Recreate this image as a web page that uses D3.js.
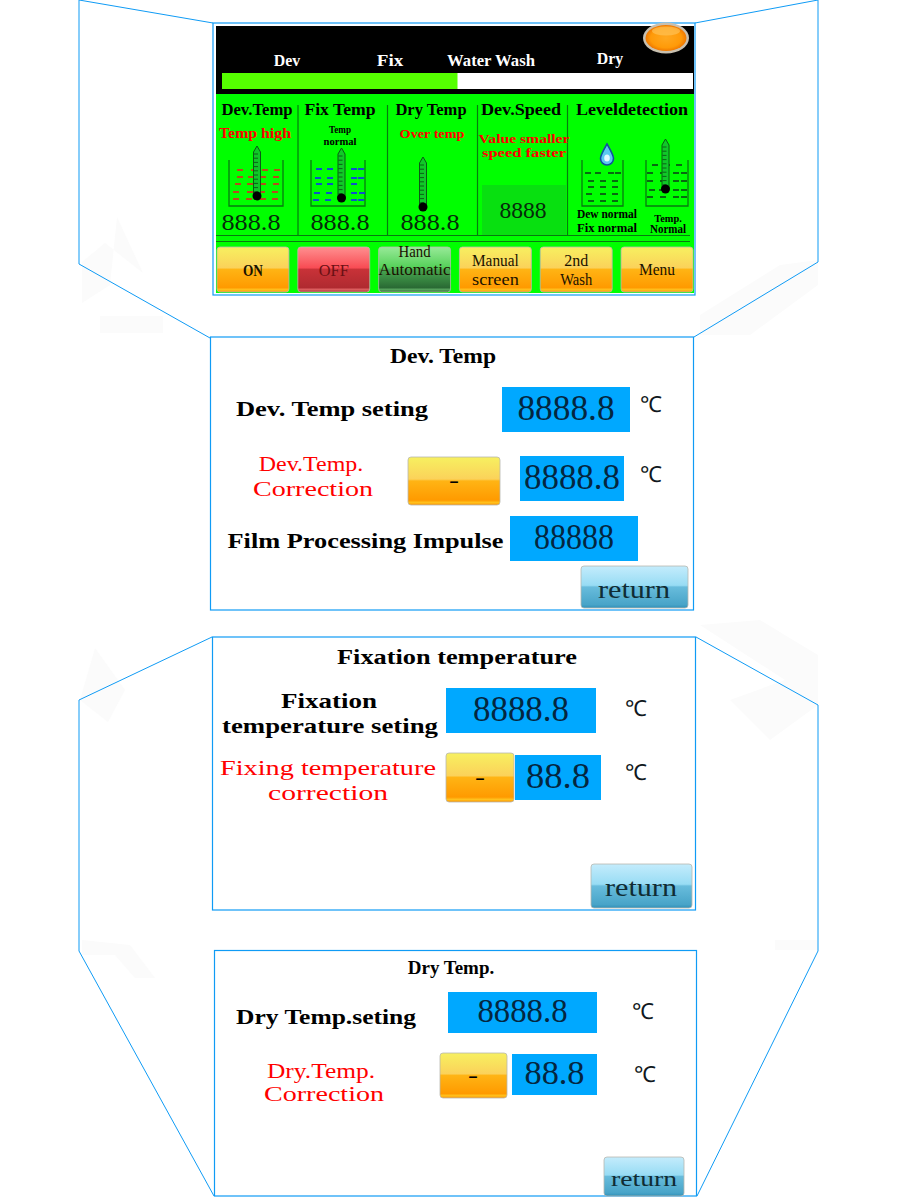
<!DOCTYPE html>
<html>
<head>
<meta charset="utf-8">
<title>Processor screens</title>
<script src="https://cdnjs.cloudflare.com/ajax/libs/d3/7.8.5/d3.min.js"></script>
<style>
html, body { margin: 0; padding: 0; background: #fff; }
svg { display: block; }
text { font-family: "Liberation Serif", serif; }
</style>
</head>
<body>
<svg></svg>
<script>
let width = 900, height = 1200

// values
const stageLabels = ['Dev', 'Fix', 'Water Wash', 'Dry']
const progressValue = 50
const columnTitles = ['Dev.Temp', 'Fix Temp', 'Dry Temp', 'Dev.Speed', 'Leveldetection']
const columnValues = ['888.8', '888.8', '888.8', '8888']
const buttonLabels = [['ON'], ['OFF'], ['Hand', 'Automatic'], ['Manual', 'screen'], ['2nd', 'Wash'], ['Menu']]
const buttonStyles = ['orange', 'red', 'green', 'orange', 'orange', 'orange']
const devTitle = 'Dev. Temp'
const devSetting = 'Dev. Temp seting'
const devCorrection = ['Dev.Temp.', 'Correction']
const devImpulse = 'Film Processing Impulse'
const devValues = ['8888.8', '8888.8', '88888']
const fixTitle = 'Fixation temperature'
const fixSetting = ['Fixation', 'temperature seting']
const fixCorrection = ['Fixing temperature', 'correction']
const fixValues = ['8888.8', '88.8']
const dryTitle = 'Dry Temp.'
const drySetting = 'Dry Temp.seting'
const dryCorrection = ['Dry.Temp.', 'Correction']
const dryValues = ['8888.8', '88.8']
const unitLabel = '℃'
const returnLabel = 'return'

let svg = d3.select("svg").attr("width", width).attr("height", height)
let defs = svg.append("defs")

const blue = "#0f9bf5", valueBlue = "#00a8ff", inkBlue = "#04263f", darkGreen = "#087a10"

const addGradient = (id, stops) => {
    let g = defs.append("linearGradient").attr("id", id)
        .attr("x1", 0).attr("y1", 0).attr("x2", 0).attr("y2", 1)
    stops.forEach(s => g.append("stop").attr("offset", s[0]).attr("stop-color", s[1]))
}
addGradient("orange", [[0, "#f7f060"], [0.46, "#fbd25a"], [0.5, "#ffb414"], [0.9, "#ff9a00"], [0.95, "#ffc21e"], [1, "#ff9400"]])
addGradient("red", [[0, "#ff9090"], [0.46, "#f84c54"], [0.5, "#c83238"], [0.9, "#b02a30"], [0.95, "#e06464"], [1, "#a02428"]])
addGradient("green", [[0, "#98ea98"], [0.46, "#54d058"], [0.5, "#48a850"], [0.9, "#2a6a34"], [0.95, "#5aa860"], [1, "#286030"]])
addGradient("sky", [[0, "#c4ecfc"], [0.46, "#98dcf4"], [0.5, "#68bcdc"], [0.92, "#48a4c8"], [1, "#3090b8"]])
let lamp = defs.append("radialGradient").attr("id", "lamp")
lamp.append("stop").attr("offset", 0).attr("stop-color", "#ffa820")
lamp.append("stop").attr("offset", 0.75).attr("stop-color", "#ff9a08")
lamp.append("stop").attr("offset", 1).attr("stop-color", "#f07800")

// generic text helper: glyphs are squeezed to a fixed advance like the panel's bitmap font
const put = (parent, str, x, y, opt = {}) => {
    let t = parent.append("text")
        .attr("x", x).attr("y", y + 3)
        .attr("text-anchor", opt.anchor || "middle")
        .attr("dominant-baseline", "middle")
        .attr("font-size", opt.size || 18)
        .attr("font-weight", opt.bold === false ? 400 : 700)
        .attr("fill", opt.color || "#000")
        .text(str)
    if (opt.adv) t.attr("textLength", str.length * opt.adv).attr("lengthAdjust", "spacingAndGlyphs")
    return t
}

const drawButton = (parent, x, y, w, h, style) => parent.append("rect")
    .attr("x", x).attr("y", y).attr("width", w).attr("height", h).attr("rx", 3)
    .attr("fill", `url(#${style})`).attr("stroke", "#b8b8b0").attr("stroke-width", 0.8)

const valueBox = (parent, x0, x1, y0, y1, str, size, adv) => {
    parent.append("rect").attr("x", x0).attr("y", y0).attr("width", x1 - x0).attr("height", y1 - y0).attr("fill", valueBlue)
    put(parent, str, (x0 + x1) / 2, (y0 + y1) / 2 - 1, {size: size, adv: adv, bold: false, color: inkBlue})
}

// faint watermark behind the panels
let wm = svg.append("g").attr("fill", "#fbfbfb")
const wmShapes = [
    [[117, 217], [143, 273], [105, 243], [82, 262], [82, 303], [110, 285]],
    [[100, 316], [163, 316], [163, 333], [100, 333]],
    [[700, 315], [780, 265], [818, 260], [818, 285], [750, 335], [700, 335]],
    [[700, 625], [760, 620], [818, 655], [818, 705], [770, 740], [730, 700], [785, 680]],
    [[95, 648], [125, 690], [108, 722], [80, 700]],
    [[82, 940], [130, 945], [155, 978], [135, 978], [115, 955], [82, 955]],
    [[775, 940], [818, 940], [818, 950], [775, 950]]
]
wm.selectAll("polygon").data(wmShapes).enter().append("polygon")
    .attr("points", d => d.map(p => p.join(",")).join(" "))

// connector outline between the screens
let link = d3.line()
const connectors = [
    [[213, 23], [79, 0], [79, 264], [210, 338]],
    [[695, 23], [818, 0], [818, 262], [694, 337]],
    [[212, 637], [79, 700], [79, 951], [214, 1196]],
    [[696, 637], [818, 705], [818, 951], [697, 1196]]
]
svg.append("g").selectAll("path").data(connectors).enter().append("path")
    .attr("d", link).attr("fill", "none").attr("stroke", blue).attr("stroke-width", 1)

// panel frames
const frames = [[213, 23, 482, 272], [210.5, 337, 483, 273], [212.5, 637, 483, 273], [214.5, 950.5, 482, 245.5]]
svg.append("g").selectAll("rect").data(frames).enter().append("rect")
    .attr("x", d => d[0]).attr("y", d => d[1]).attr("width", d => d[2]).attr("height", d => d[3])
    .attr("fill", "#fff").attr("stroke", blue).attr("stroke-width", 1.2)

// ---- main screen ----
let hmi = svg.append("g")
hmi.append("rect").attr("x", 216).attr("y", 26).attr("width", 478).attr("height", 68).attr("fill", "#000")
hmi.append("rect").attr("x", 216).attr("y", 94).attr("width", 478).attr("height", 199).attr("fill", "#00ff00")

const stageX = [287, 390, 491, 610], stageY = [59, 59, 59, 57]
stageLabels.forEach((s, i) => put(hmi, s, stageX[i], stageY[i], {size: 16, adv: 8.8, color: "#fff"}))

let progress = d3.scaleLinear().domain([0, 100]).range([222, 693])
hmi.append("rect").attr("x", progress(0)).attr("y", 73).attr("width", progress(100) - progress(0)).attr("height", 16).attr("fill", "#fff")
hmi.append("rect").attr("x", progress(0)).attr("y", 73).attr("width", progress(progressValue) - progress(0)).attr("height", 16).attr("fill", "#55ff00")

hmi.append("ellipse").attr("cx", 666).attr("cy", 38).attr("rx", 23).attr("ry", 15.5).attr("fill", "#c8c0b0")
hmi.append("ellipse").attr("cx", 666).attr("cy", 38).attr("rx", 20.5).attr("ry", 13).attr("fill", "url(#lamp)")
hmi.append("ellipse").attr("cx", 666).attr("cy", 31).attr("rx", 14).attr("ry", 4.5).attr("fill", "#ffc860").attr("opacity", 0.6)

// column rules
const dividers = [298, 387.5, 477.5, 567.5]
hmi.selectAll("line.div").data(dividers).enter().append("line").attr("class", "div")
    .attr("x1", d => d).attr("x2", d => d).attr("y1", 105).attr("y2", 235)
    .attr("stroke", darkGreen).attr("stroke-width", 1.2)
;[235.5, 241.5].forEach(y => hmi.append("line").attr("x1", 216).attr("x2", 690).attr("y1", y).attr("y2", y)
    .attr("stroke", darkGreen).attr("stroke-width", 1.2))

const titleX = [257, 340, 431, 521, 632]
columnTitles.forEach((s, i) => put(hmi, s, titleX[i], 108, {size: 16, adv: i == 4 ? 8 : 8.9}))

put(hmi, 'Temp high', 255, 132, {size: 14, adv: 8, color: "#ff0000"})
put(hmi, 'Temp', 340, 127, {size: 11, adv: 5.5})
put(hmi, 'normal', 340, 139, {size: 11, adv: 5.5})
put(hmi, 'Over temp', 432, 132, {size: 13, adv: 7.2, color: "#ff0000"})
put(hmi, 'Value smaller', 524, 137, {size: 13, adv: 7, color: "#ff0000"})
put(hmi, 'speed faster', 524, 151, {size: 13, adv: 7, color: "#ff0000"})

const drawBeaker = (x0, x1, color, rows) => {
    hmi.append("path").attr("d", `M${x0},160V206H${x1}V160`).attr("fill", "none").attr("stroke", darkGreen).attr("stroke-width", 1.3)
    rows.forEach(r => r[1].forEach(dx => hmi.append("line")
        .attr("x1", x0 + dx).attr("x2", x0 + dx + 6).attr("y1", r[0]).attr("y2", r[0])
        .attr("stroke", color).attr("stroke-width", 1.8)))
}
const drawThermo = (cx, top, bulb) => {
    hmi.append("path")
        .attr("d", `M${cx - 3.5},${bulb}V${top + 6}L${cx},${top}L${cx + 3.5},${top + 6}V${bulb}Z`)
        .attr("fill", "#10c828").attr("stroke", "#0a5a14").attr("stroke-width", 1)
    d3.range(top + 8, bulb - 3, 4.2).forEach(y => hmi.append("line").attr("x1", cx - 3).attr("x2", cx + 1).attr("y1", y).attr("y2", y)
        .attr("stroke", "#0a4a10").attr("stroke-width", 0.8))
    hmi.append("circle").attr("cx", cx).attr("cy", bulb).attr("r", 4.5).attr("fill", "#000")
}

drawBeaker(229, 283, "#c83a20", [
    [170, [8, 22, 33, 45]], [177, [8, 19, 31, 44]], [184, [6, 18, 31, 44]],
    [192, [4, 18, 30, 43]], [199, [4, 17, 31, 43]]])
drawThermo(257, 146, 196)
drawBeaker(311, 365, "#1040e0", [
    [169, [5, 16, 28, 40, 47]], [178, [4, 16, 28, 40, 47]], [184, [5, 16, 28, 40]],
    [193, [3, 15, 28, 40, 48]], [200, [2, 14, 28, 40, 47]]])
drawThermo(341.5, 148, 198)
drawThermo(423, 157, 207)
drawBeaker(582, 623, "#0a5a14", [
    [173, [3, 13, 26, 33]], [181, [6, 18, 30]], [187, [6, 18, 30]], [194, [4, 18, 30]], [201, [6, 18, 30]]])
drawBeaker(646, 688, "#0a5a14", [
    [165, [6, 18, 30]], [173, [1, 14, 27, 35]], [181, [1, 14, 27, 35]], [190, [3, 13, 27, 35]], [197, [1, 14, 27, 35]]])
drawThermo(665.5, 139, 189)

// drop
hmi.append("path").attr("d", "M607,144C603,151 600.5,155 600.5,158.5A6.5,6.5 0 0 0 613.5,158.5C613.5,155 611,151 607,144Z")
    .attr("fill", "#5ac8f0").attr("stroke", "#1050a0").attr("stroke-width", 1.6)
hmi.append("ellipse").attr("cx", 607).attr("cy", 158).attr("rx", 2.8).attr("ry", 3.5).attr("fill", "#e0f8ff")

put(hmi, 'Dew normal', 607, 212, {size: 11.5, adv: 6})
put(hmi, 'Fix normal', 607, 226, {size: 11.5, adv: 6})
put(hmi, 'Temp.', 668, 216, {size: 11, adv: 5.5})
put(hmi, 'Normal', 668, 227, {size: 11.5, adv: 6})

hmi.append("rect").attr("x", 482).attr("y", 185).attr("width", 84).attr("height", 50).attr("fill", "#08e010")
const valueX = [251, 340, 430, 523], valueY = [221, 221, 221, 209]
columnValues.forEach((s, i) => put(hmi, s, valueX[i], valueY[i], {size: 24, adv: 11.8, bold: false, color: "#062a0a"}))

// bottom button row
let btnScale = d3.scaleBand().domain(d3.range(buttonLabels.length)).range([217, 693]).paddingInner(0.11)
const btnLabelY = [[269], [269], [250, 268], [259, 278], [259, 278], [268]]
const btnLabelAdv = [10, 10, 8, 7.8, 8, 9]
buttonLabels.forEach((lines, i) => {
    let x = btnScale(i), w = btnScale.bandwidth()
    drawButton(hmi, x, 247, w, 45, buttonStyles[i])
    lines.forEach((s, j) => put(hmi, s, x + w / 2, btnLabelY[i][j],
        {size: 16.5, adv: btnLabelAdv[i], bold: i == 0, color: i == 1 ? "#6a1014" : "#1a1200"}))
})

// ---- Dev temp screen ----
let dev = svg.append("g")
put(dev, devTitle, 443, 355, {size: 20, adv: 11.8})
put(dev, devSetting, 332, 408, {size: 21.5, adv: 12})
valueBox(dev, 502, 630, 387, 432, devValues[0], 36, 16.2)
put(dev, unitLabel, 651, 404, {size: 22, bold: false, color: "#101820"})
put(dev, devCorrection[0], 311, 463, {size: 21, adv: 11.6, color: "#ff0000", bold: false})
put(dev, devCorrection[1], 313, 488, {size: 21, adv: 12, color: "#ff0000", bold: false})
drawButton(dev, 408, 457, 92, 48, "orange")
put(dev, '-', 454, 479, {size: 20, adv: 10, bold: false})
valueBox(dev, 520, 624, 456, 501, devValues[1], 36, 16)
put(dev, unitLabel, 651, 474, {size: 22, bold: false, color: "#101820"})
put(dev, devImpulse, 365.5, 540, {size: 21.5, adv: 12})
valueBox(dev, 510, 638, 516, 561, devValues[2], 36, 16)
drawButton(dev, 581, 566, 107, 42, "sky")
put(dev, returnLabel, 634, 589, {size: 25, adv: 12, bold: false, color: "#102c34"})

// ---- Fixation screen ----
let fix = svg.append("g")
put(fix, fixTitle, 457, 656, {size: 20, adv: 12})
put(fix, fixSetting[0], 329, 700, {size: 21.5, adv: 12})
put(fix, fixSetting[1], 330, 725, {size: 21.5, adv: 12})
valueBox(fix, 446, 596, 688, 733, fixValues[0], 36, 16)
put(fix, unitLabel, 636, 708, {size: 22, bold: false, color: "#101820"})
put(fix, fixCorrection[0], 328, 767, {size: 21.5, adv: 12, color: "#ff0000", bold: false})
put(fix, fixCorrection[1], 328, 792, {size: 21.5, adv: 12, color: "#ff0000", bold: false})
drawButton(fix, 446, 753, 68, 49, "orange")
put(fix, '-', 480, 776, {size: 20, adv: 10, bold: false})
valueBox(fix, 515, 601, 755, 800, fixValues[1], 36, 16)
put(fix, unitLabel, 636, 772, {size: 22, bold: false, color: "#101820"})
drawButton(fix, 591, 864, 101, 44, "sky")
put(fix, returnLabel, 641, 887, {size: 25, adv: 12, bold: false, color: "#102c34"})

// ---- Dry screen ----
let dry = svg.append("g")
put(dry, dryTitle, 451, 967, {size: 19, adv: 9.6})
put(dry, drySetting, 326, 1016, {size: 21, adv: 12})
valueBox(dry, 448, 597, 992, 1033, dryValues[0], 33, 15)
put(dry, unitLabel, 643, 1011, {size: 22, bold: false, color: "#101820"})
put(dry, dryCorrection[0], 321, 1070, {size: 21, adv: 12, color: "#ff0000", bold: false})
put(dry, dryCorrection[1], 324, 1093, {size: 21, adv: 12, color: "#ff0000", bold: false})
drawButton(dry, 440, 1053, 67, 45, "orange")
put(dry, '-', 473, 1074, {size: 20, adv: 10, bold: false})
valueBox(dry, 512, 597, 1054, 1095, dryValues[1], 33, 15)
put(dry, unitLabel, 645, 1074, {size: 22, bold: false, color: "#101820"})
drawButton(dry, 604, 1157, 80, 39, "sky")
put(dry, returnLabel, 644, 1178, {size: 22, adv: 11, bold: false, color: "#102c34"})
</script>
</body>
</html>
